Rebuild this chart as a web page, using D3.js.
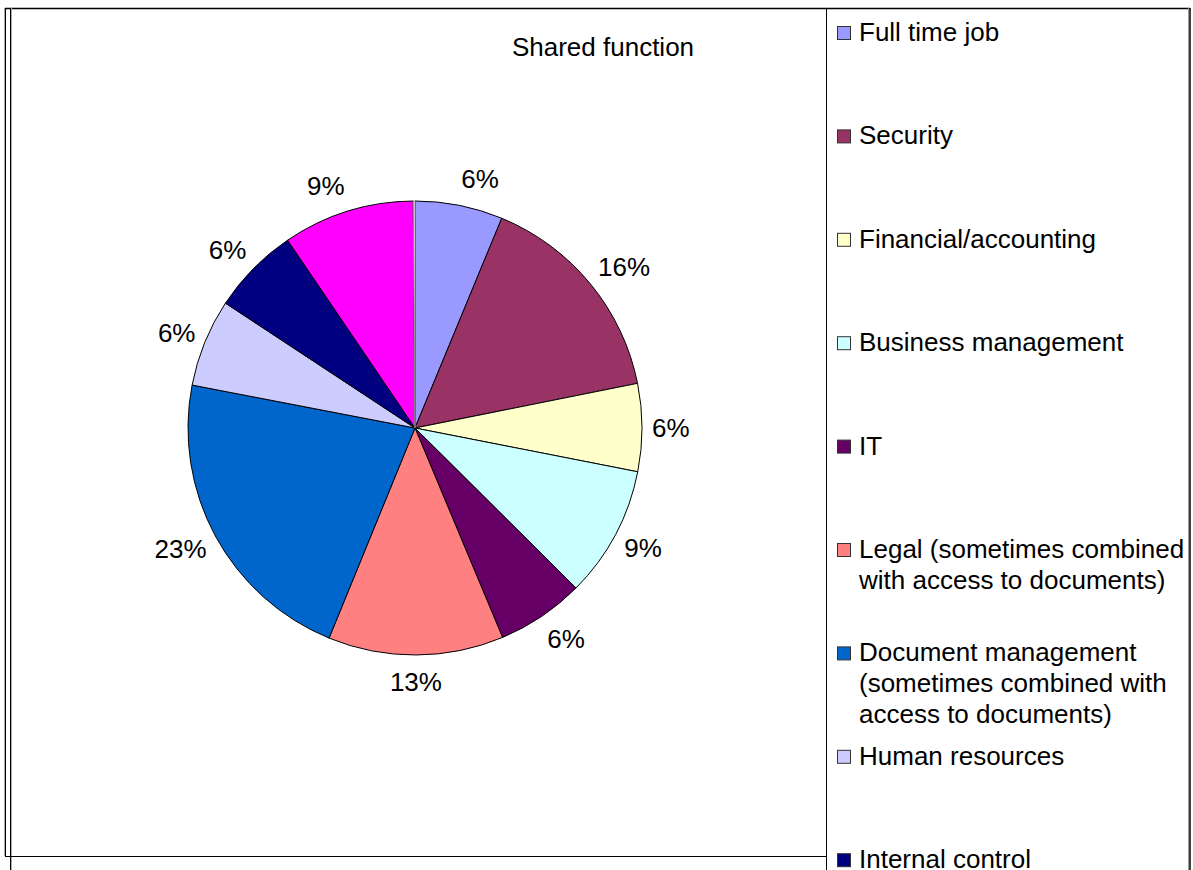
<!DOCTYPE html>
<html>
<head>
<meta charset="utf-8">
<script src="https://cdn.jsdelivr.net/npm/d3@7"></script>
<style>
  body { margin: 0; background: #fff; }
  text { font-family: "Liberation Sans", Arial, sans-serif; fill: #000; }
</style>
</head>
<body>
<svg id="chart"></svg>
<script>
// categories (last one is a tiny sliver, its legend entry is cut off)
var categories = ["Full time job", "Security", "Financial/accounting", "Business management", "IT",
    "Legal (sometimes combined with access to documents)",
    "Document management (sometimes combined with access to documents)",
    "Human resources", "Internal control", "Other", ""];
// legend text split into lines as shown
var legendLines = [["Full time job"], ["Security"], ["Financial/accounting"], ["Business management"], ["IT"],
    ["Legal (sometimes combined", "with access to documents)"],
    ["Document management", "(sometimes combined with", "access to documents)"],
    ["Human resources"], ["Internal control"]];
var values = [2, 5, 2, 3, 2, 4, 7, 2, 2, 3, 0.04];
var percentLabels = ["6%", "16%", "6%", "9%", "6%", "13%", "23%", "6%", "6%", "9%", ""];
var colors = ["#9999FF", "#993366", "#FFFFCC", "#CCFFFF", "#660066", "#FF8080",
    "#0066CC", "#CCCCFF", "#000080", "#FF00FF", "#FFFFFF"];

var width = 1193, height = 870;
var cx = 415, cy = 428, radius = 227;
var fontSize = 26;

var svg = d3.select("#chart").attr("width", width).attr("height", height);

// frame lines
var frame = svg.append("g").attr("fill", "none");
frame.append("line").attr("x1", 5).attr("x2", 1190).attr("y1", 8.5).attr("y2", 8.5).attr("stroke", "#000").attr("stroke-width", 1.5);
frame.append("line").attr("x1", 4.5).attr("x2", 4.5).attr("y1", 8).attr("y2", 856).attr("stroke", "#aaa");
frame.append("line").attr("x1", 5.5).attr("x2", 5.5).attr("y1", 8).attr("y2", 856).attr("stroke", "#000");
frame.append("line").attr("x1", 10.5).attr("x2", 10.5).attr("y1", 8).attr("y2", 870).attr("stroke", "#000");
frame.append("line").attr("x1", 11.5).attr("x2", 11.5).attr("y1", 8).attr("y2", 870).attr("stroke", "#aaa");
frame.append("line").attr("x1", 5).attr("x2", 826).attr("y1", 856.5).attr("y2", 856.5).attr("stroke", "#000");
frame.append("line").attr("x1", 826.5).attr("x2", 826.5).attr("y1", 8).attr("y2", 870).attr("stroke", "#000");
frame.append("line").attr("x1", 1188.5).attr("x2", 1188.5).attr("y1", 8).attr("y2", 870).attr("stroke", "#999");
frame.append("line").attr("x1", 1190).attr("x2", 1190).attr("y1", 8).attr("y2", 870).attr("stroke", "#000").attr("stroke-width", 1.5);

// title
svg.append("text")
    .attr("x", 603)
    .attr("y", 56)
    .attr("text-anchor", "middle")
    .style("font-size", fontSize + "px")
    .text("Shared function");

// pie
var pie = d3.pie().sort(null).value(function(d) { return d; });
var arcs = pie(values);
var arc = d3.arc().innerRadius(0).outerRadius(radius);

var g = svg.append("g").attr("transform", "translate(" + cx + "," + cy + ")");

g.selectAll("path")
    .data(arcs)
    .enter()
    .append("path")
    .attr("d", arc)
    .attr("fill", function(d, i) { return colors[i]; })
    .attr("stroke", function(d, i) { return i === values.length - 1 ? "#888" : "#000"; })
    .attr("stroke-width", 1);

// percent labels placed just outside the rim, anchored by side
function unit(d) {
    var a = (d.startAngle + d.endAngle) / 2;
    return [Math.sin(a), -Math.cos(a)];
}
g.selectAll("text.pct")
    .data(arcs)
    .enter()
    .append("text")
    .attr("class", "pct")
    .attr("x", function(d) { return unit(d)[0] * (radius + 10); })
    .attr("y", function(d) { var u = unit(d); return u[1] * (radius + 10) + u[1] * 17; })
    .attr("text-anchor", function(d) {
        var ux = unit(d)[0];
        return ux > 0.05 ? "start" : (ux < -0.05 ? "end" : "middle");
    })
    .attr("dy", "0.36em")
    .style("font-size", fontSize + "px")
    .text(function(d, i) { return percentLabels[i]; });

// legend
var legendX = 837, legendTop = 26, legendStep = 103.4, lineH = 31;
var legend = svg.append("g");
var items = legend.selectAll("g")
    .data(legendLines)
    .enter()
    .append("g")
    .attr("transform", function(d, i) { return "translate(" + legendX + "," + (legendTop + i * legendStep) + ")"; });

items.append("rect")
    .attr("width", 13)
    .attr("height", 13)
    .attr("x", 0.5)
    .attr("y", 0.5)
    .attr("fill", function(d, i) { return colors[i]; })
    .attr("stroke", "#333")
    .attr("stroke-width", 1);

items.append("text")
    .attr("x", 22)
    .attr("y", 15)
    .style("font-size", fontSize + "px")
    .selectAll("tspan")
    .data(function(d) { return d; })
    .enter()
    .append("tspan")
    .attr("x", 22)
    .attr("dy", function(d, j) { return j === 0 ? 0 : lineH; })
    .text(function(d) { return d; });
</script>
</body>
</html>
